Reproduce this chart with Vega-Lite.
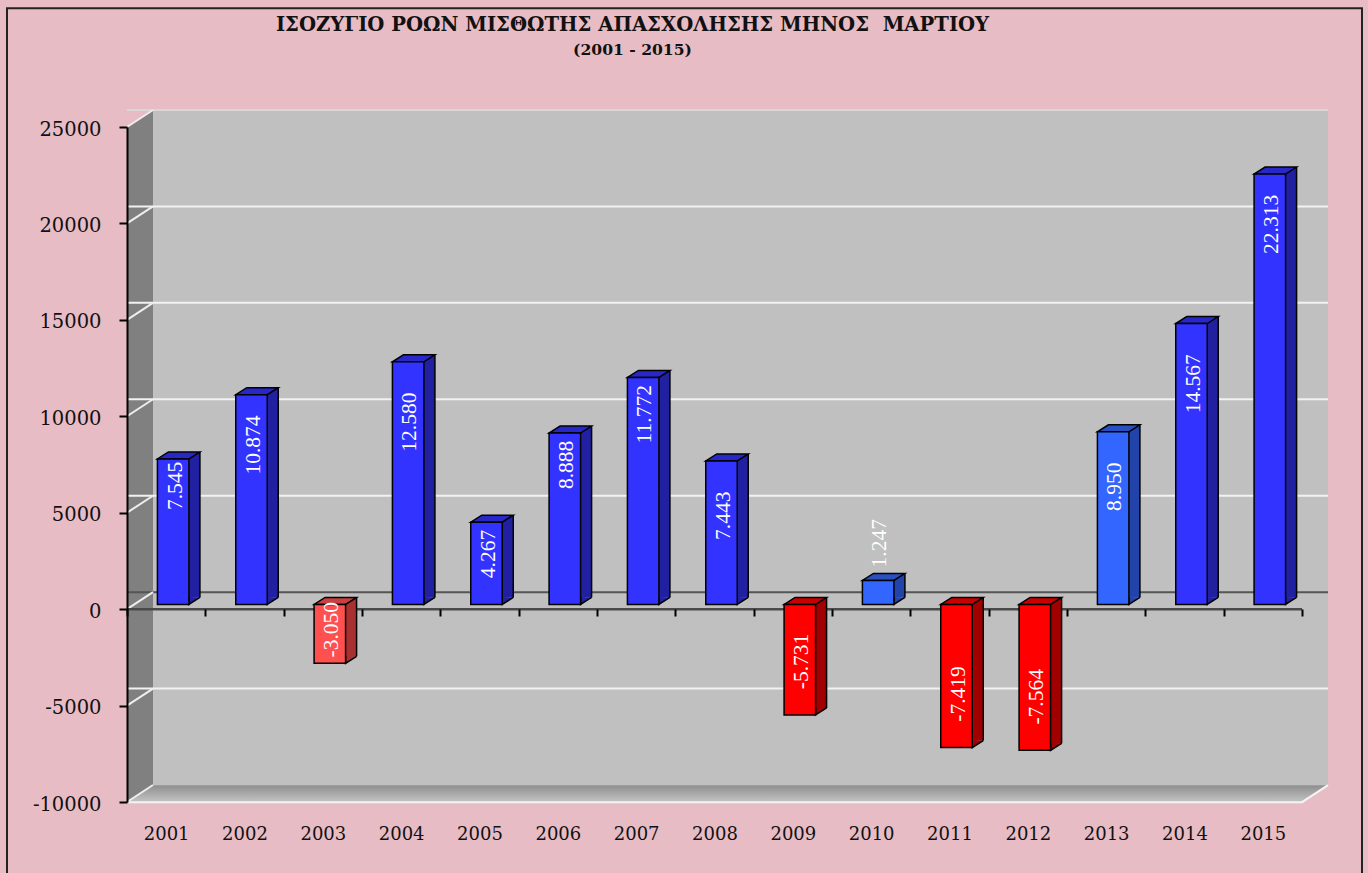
{"$schema":"https://vega.github.io/schema/vega-lite/v6.json","autosize":"none","width":1175,"height":675,"padding":{"left":127,"top":127,"right":66,"bottom":71},"background":"#e8bcc4","view":{"stroke":null},
"title":{"text":"ΙΣΟΖΥΓΙΟ ΡΟΩΝ ΜΙΣΘΩΤΗΣ ΑΠΑΣΧΟΛΗΣΗΣ ΜΗΝΟΣ \u00a0ΜΑΡΤΙΟΥ","subtitle":"(2001 - 2015)","anchor":"middle","dx":-82,"offset":-55,"font":"DejaVu Serif","fontSize":19.6,"fontWeight":"bold","color":"#111","subtitleFont":"DejaVu Serif","subtitleFontSize":15.6,"subtitleFontWeight":"bold","subtitleColor":"#111","subtitlePadding":7},
"datasets":{"bars":[
{"year":"2001","value":7545,"label":"7.545","tone":"blue"},{"year":"2002","value":10874,"label":"10.874","tone":"blue"},{"year":"2003","value":-3050,"label":"-3.050","tone":"lightred"},{"year":"2004","value":12580,"label":"12.580","tone":"blue"},{"year":"2005","value":4267,"label":"4.267","tone":"blue"},{"year":"2006","value":8888,"label":"8.888","tone":"blue"},{"year":"2007","value":11772,"label":"11.772","tone":"blue"},{"year":"2008","value":7443,"label":"7.443","tone":"blue"},{"year":"2009","value":-5731,"label":"-5.731","tone":"red"},{"year":"2010","value":1247,"label":"1.247","tone":"lightblue"},{"year":"2011","value":-7419,"label":"-7.419","tone":"red"},{"year":"2012","value":-7564,"label":"-7.564","tone":"red"},{"year":"2013","value":8950,"label":"8.950","tone":"lightblue"},{"year":"2014","value":14567,"label":"14.567","tone":"blue"},{"year":"2015","value":22313,"label":"22.313","tone":"blue"}],
"one":[{"v":0}],"top":[{"v":25000}],"ticks":[{"v":-10000},{"v":-5000},{"v":0},{"v":5000},{"v":10000},{"v":15000},{"v":20000},{"v":25000}],"grid":[{"v":-5000},{"v":5000},{"v":10000},{"v":15000},{"v":20000}]},
"data":{"name":"bars"},
"resolve":{"scale":{"color":"independent"},"axis":{"x":"independent","y":"independent"}},
"layer":[
{"data":{"name":"one"},"mark":{"type":"point","shape":"M-120,271L-120,-601L1235,-601L1235,271","size":4,"filled":false,"stroke":"#222","strokeWidth":2,"opacity":1,"xOffset":-39.17},"encoding":{"x":{"datum":"2001","axis":null},"y":{"datum":0,"axis":null}}},
{"data":{"name":"one"},"mark":{"type":"point","shape":"M26,-500L1201,-500L1201,176L26,176Z","size":4,"filled":true,"fill":"#c0c0c0","stroke":null,"opacity":1,"xOffset":-39.17},"encoding":{"x":{"datum":"2001","axis":null},"y":{"datum":0,"axis":null}}},
{"data":{"name":"one"},"mark":{"type":"point","shape":"M0,-482L26,-500L26,176L0,193Z","size":4,"filled":true,"fill":"#808080","stroke":null,"opacity":1,"xOffset":-39.17},"encoding":{"x":{"datum":"2001","axis":null},"y":{"datum":0,"axis":null}}},
{"data":{"name":"one"},"mark":{"type":"point","shape":"M0,193L1175,193L1201,176L26,176Z","size":4,"filled":true,"fill":{"gradient":"linear","x1":0,"y1":0,"x2":0,"y2":1,"stops":[{"offset":0,"color":"#8e8e8e"},{"offset":1,"color":"#c4c4c4"}]},"stroke":null,"opacity":1,"xOffset":-39.17},"encoding":{"x":{"datum":"2001","axis":null},"y":{"datum":0,"axis":null}}},
{"data":{"name":"top"},"mark":{"type":"rule","color":"#d8d8d8","strokeWidth":2,"xOffset":26,"yOffset":-17},"encoding":{"y":{"field":"v","type":"quantitative","axis":null}}},
{"data":{"name":"grid"},"mark":{"type":"rule","color":"#f2f2f2","strokeWidth":2,"xOffset":26,"yOffset":-17},"encoding":{"y":{"field":"v","type":"quantitative","axis":null}}},
{"data":{"name":"one"},"mark":{"type":"rule","color":"#555555","strokeWidth":2,"xOffset":26,"yOffset":-17},"encoding":{"y":{"field":"v","type":"quantitative","axis":null}}},
{"data":{"name":"ticks"},"mark":{"type":"point","shape":"M0,0L26,-17","size":4,"filled":false,"stroke":"#eeeeee","strokeWidth":2,"opacity":1,"xOffset":-39.17},"encoding":{"x":{"datum":"2001","axis":null},"y":{"field":"v","type":"quantitative","axis":null}}},
{"data":{"name":"one"},"mark":{"type":"point","shape":"M0,193L1175,193L1201,176","size":4,"filled":false,"stroke":"#f4f4f4","strokeWidth":2,"opacity":1,"xOffset":-39.17},"encoding":{"x":{"datum":"2001","axis":null},"y":{"field":"v","type":"quantitative","axis":null}}},
{"data":{"name":"one"},"mark":{"type":"rule","color":"#4a4a4a","strokeWidth":2.5},"encoding":{"y":{"field":"v","type":"quantitative","axis":null}}},
{"mark":{"type":"bar","width":11,"xOffset":28.25,"yOffset":-11.7,"y2Offset":-11.7},"encoding":{"x":{"field":"year","type":"nominal","axis":null},"y":{"field":"value","type":"quantitative","axis":null},"y2":{"datum":0},"color":{"field":"tone","type":"nominal","legend":null,"scale":{"domain":["blue","lightblue","red","lightred"],"range":["#2020a0","#2244aa","#a00000","#a83030"]}}}},
{"mark":{"type":"rule","color":"#000","strokeWidth":1.5,"xOffset":33.75,"yOffset":-11.7,"y2Offset":-11.7},"encoding":{"x":{"field":"year","type":"nominal","axis":null},"y":{"field":"value","type":"quantitative","axis":null},"y2":{"datum":0}}},
{"transform":[{"filter":"datum.value>0"}],"mark":{"type":"point","shape":"M-15.75,0L15.75,0L26.75,-7L-4.75,-7Z","size":4,"filled":true,"stroke":"#000","strokeWidth":1.5,"opacity":1,"xOffset":7,"yOffset":-4.7},"encoding":{"x":{"field":"year","type":"nominal","axis":null},"y":{"field":"value","type":"quantitative","axis":null},"color":{"field":"tone","type":"nominal","legend":null,"scale":{"domain":["blue","lightblue","red","lightred"],"range":["#2828c8","#2a50c0","#c80000","#c84040"]}}}},
{"transform":[{"filter":"datum.value<0"}],"mark":{"type":"point","shape":"M-15.75,0L15.75,0L26.75,-7L-4.75,-7Z","size":4,"filled":true,"stroke":"#000","strokeWidth":1.5,"opacity":1,"xOffset":7,"yOffset":-4.7},"encoding":{"x":{"field":"year","type":"nominal","axis":null},"y":{"datum":0,"axis":null},"color":{"field":"tone","type":"nominal","legend":null,"scale":{"domain":["blue","lightblue","red","lightred"],"range":["#2828c8","#2a50c0","#c80000","#c84040"]}}}},
{"transform":[{"filter":"datum.value>0"}],"mark":{"type":"point","shape":"M15.75,-7.5L15.75,0L26.75,-7","size":4,"filled":true,"stroke":"#000","strokeWidth":1.5,"opacity":1,"xOffset":7,"yOffset":-4.7},"encoding":{"x":{"field":"year","type":"nominal","axis":null},"y":{"datum":0,"axis":null},"color":{"field":"tone","type":"nominal","legend":null,"scale":{"domain":["blue","lightblue","red","lightred"],"range":["#2020a0","#2244aa","#a00000","#a83030"]}}}},
{"transform":[{"filter":"datum.value<0"}],"mark":{"type":"point","shape":"M15.75,-7.5L15.75,0L26.75,-7","size":4,"filled":true,"stroke":"#000","strokeWidth":1.5,"opacity":1,"xOffset":7,"yOffset":-4.7},"encoding":{"x":{"field":"year","type":"nominal","axis":null},"y":{"field":"value","type":"quantitative","axis":null},"color":{"field":"tone","type":"nominal","legend":null,"scale":{"domain":["blue","lightblue","red","lightred"],"range":["#2020a0","#2244aa","#a00000","#a83030"]}}}},
{"mark":{"type":"bar","width":31.5,"xOffset":7,"yOffset":-4.7,"y2Offset":-4.7,"stroke":"#000","strokeWidth":1.5},"encoding":{"x":{"field":"year","type":"nominal","scale":{"type":"band","paddingInner":0,"paddingOuter":0},"axis":{"title":null,"orient":"bottom","offset":-193,"tickBand":"extent","domain":false,"ticks":true,"tickSize":7,"tickWidth":2,"tickColor":"#000","labelPadding":209,"labelAngle":0,"labelFont":"DejaVu Serif","labelFontSize":18,"labelColor":"#111","labelBaseline":"top","zindex":1}},"y":{"field":"value","type":"quantitative","scale":{"domain":[-10000,25000],"nice":false,"zero":false},"axis":{"title":null,"domain":true,"domainColor":"#000","domainWidth":2,"ticks":true,"tickSize":8,"tickWidth":2,"tickColor":"#000","grid":false,"values":[-10000,-5000,0,5000,10000,15000,20000,25000],"labelExpr":"''+datum.value","labelFont":"DejaVu Serif","labelFontSize":19.5,"labelColor":"#111","labelPadding":18,"labelOffset":2,"zindex":1}},"y2":{"datum":0},"color":{"field":"tone","type":"nominal","legend":null,"scale":{"domain":["blue","lightblue","red","lightred"],"range":["#3333ff","#3366ff","#ff0000","#ff5050"]}}}},
{"transform":[{"filter":{"field":"year","oneOf":["2001"]}}],"mark":{"type":"text","angle":270,"align":"right","baseline":"middle","xOffset":10,"yOffset":-2,"color":"#fff","font":"Liberation Serif","fontSize":21.5},"encoding":{"x":{"field":"year","type":"nominal","axis":null},"y":{"field":"value","type":"quantitative","axis":null},"text":{"field":"label"}}},
{"transform":[{"filter":{"field":"year","oneOf":["2005","2006","2007"]}}],"mark":{"type":"text","angle":270,"align":"right","baseline":"middle","xOffset":9,"yOffset":3,"color":"#fff","font":"Liberation Serif","fontSize":21.5},"encoding":{"x":{"field":"year","type":"nominal","axis":null},"y":{"field":"value","type":"quantitative","axis":null},"text":{"field":"label"}}},
{"transform":[{"filter":{"field":"year","oneOf":["2002","2015"]}}],"mark":{"type":"text","angle":270,"align":"right","baseline":"middle","xOffset":9,"yOffset":16,"color":"#fff","font":"Liberation Serif","fontSize":21.5},"encoding":{"x":{"field":"year","type":"nominal","axis":null},"y":{"field":"value","type":"quantitative","axis":null},"text":{"field":"label"}}},
{"transform":[{"filter":{"field":"year","oneOf":["2004","2008","2013","2014"]}}],"mark":{"type":"text","angle":270,"align":"right","baseline":"middle","xOffset":9,"yOffset":26,"color":"#fff","font":"Liberation Serif","fontSize":21.5},"encoding":{"x":{"field":"year","type":"nominal","axis":null},"y":{"field":"value","type":"quantitative","axis":null},"text":{"field":"label"}}},
{"transform":[{"filter":{"field":"year","oneOf":["2003","2010"]}}],"mark":{"type":"text","angle":270,"align":"right","baseline":"middle","xOffset":9,"yOffset":-66,"color":"#fff","font":"Liberation Serif","fontSize":21.5},"encoding":{"x":{"field":"year","type":"nominal","axis":null},"y":{"field":"value","type":"quantitative","axis":null},"text":{"field":"label"}}},
{"transform":[{"filter":{"field":"year","oneOf":["2009","2011","2012"]}}],"mark":{"type":"text","angle":270,"align":"right","baseline":"middle","xOffset":9,"yOffset":-86,"color":"#fff","font":"Liberation Serif","fontSize":21.5},"encoding":{"x":{"field":"year","type":"nominal","axis":null},"y":{"field":"value","type":"quantitative","axis":null},"text":{"field":"label"}}}
]}
